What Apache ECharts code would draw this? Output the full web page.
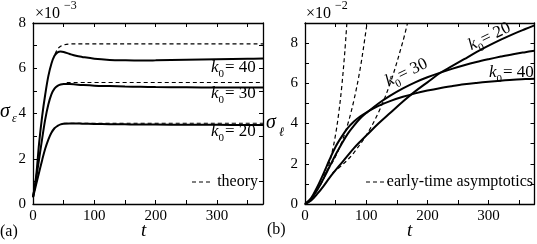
<!DOCTYPE html>
<html><head><meta charset="utf-8">
<script src="https://cdn.jsdelivr.net/npm/echarts@6/dist/echarts.min.js"></script>
<style>html,body{margin:0;padding:0;background:#fff}#c{width:537px;height:244px}</style>
</head><body><div id="c"></div>
<script>
// ---- Panel (a): sigma_epsilon (x10^-3) vs t ----
const tA   = [0, 5, 10, 15, 20, 25, 30, 35, 40, 45, 50, 60, 70, 80, 100, 125, 150, 175, 200, 250, 300, 350, 375];
const a_k20 = [0.3, 0.85, 1.4, 1.95, 2.45, 2.85, 3.15, 3.35, 3.45, 3.52, 3.55, 3.56, 3.56, 3.55, 3.54, 3.53, 3.52, 3.51, 3.51, 3.5, 3.5, 3.49, 3.49];
const a_k30 = [0.3, 1.1, 2.0, 2.9, 3.75, 4.4, 4.85, 5.1, 5.22, 5.28, 5.3, 5.3, 5.28, 5.26, 5.23, 5.21, 5.19, 5.18, 5.17, 5.16, 5.15, 5.15, 5.15];
const a_k40 = [0.3, 1.2, 2.7, 3.9, 4.85, 5.65, 6.2, 6.55, 6.7, 6.74, 6.72, 6.63, 6.55, 6.5, 6.42, 6.37, 6.35, 6.34, 6.35, 6.38, 6.4, 6.42, 6.43];
// theory (dashed)
const thT20 = [50, 375],  thV20 = [3.57, 3.57];
const thT30 = [55, 375],  thV30 = [5.37, 5.37];
const thT40 = [36, 40, 45, 50, 60, 80, 375];
const thV40 = [6.62, 6.85, 6.97, 7.03, 7.07, 7.08, 7.08];

// ---- Panel (b): sigma_l (x10^-2) vs t ----
const tB   = [0, 10, 20, 30, 40, 50, 60, 70, 80, 90, 100, 120, 140, 160, 180, 200, 220, 240, 260, 280, 300, 320, 340, 360, 375];
const b_k20 = [0, 0.18, 0.5, 0.88, 1.3, 1.68, 2.05, 2.42, 2.78, 3.1, 3.4, 4.0, 4.55, 5.1, 5.6, 6.05, 6.5, 6.85, 7.2, 7.55, 7.87, 8.17, 8.45, 8.7, 8.88];
const b_k30 = [0, 0.25, 0.7, 1.25, 1.85, 2.45, 3.0, 3.5, 3.9, 4.25, 4.52, 5.0, 5.4, 5.75, 6.05, 6.3, 6.52, 6.72, 6.9, 7.06, 7.2, 7.33, 7.45, 7.55, 7.62];
const b_k40 = [0, 0.3, 0.85, 1.5, 2.2, 2.85, 3.35, 3.78, 4.1, 4.35, 4.55, 4.88, 5.13, 5.33, 5.5, 5.64, 5.76, 5.86, 5.95, 6.02, 6.08, 6.13, 6.18, 6.21, 6.23];
// early-time asymptotics (dashed)
const asT1 = [25, 30, 35, 40, 45, 50, 55, 60, 65, 68.4];
const asV1 = [0.94, 1.22, 1.59, 2.06, 2.67, 3.46, 4.49, 5.82, 7.55, 9.0];
const asT2 = [30, 40, 50, 60, 70, 80, 90, 100, 101.3];
const asV2 = [1.41, 1.83, 2.37, 3.07, 3.98, 5.17, 6.7, 8.69, 9.0];
const asT3 = [45, 60, 70, 80, 100, 120, 140, 160, 167.5];
const asV3 = [1.55, 1.92, 2.21, 2.56, 3.41, 4.55, 6.07, 8.09, 9.0];

const xTicksShown = [0, 100, 200, 300];
const yTicksShownA = [0, 2, 4, 6, 8];
const yTicksShownB = [0, 2, 4, 6, 8];

const FF = "'Liberation Serif', 'Times New Roman', serif";
const zip = (t, v) => t.map((x, i) => [x, v[i]]);

function xAx(gi, pos) {
  return {
    type: 'value', gridIndex: gi, position: pos, min: 0, max: 375, interval: 50,
    axisLine: {show: true, onZero: false, lineStyle: {color: '#000', width: 1.3}},
    axisTick: {show: true, inside: true, length: 4, lineStyle: {color: '#000', width: 1}},
    axisLabel: pos === 'bottom' ? {show: true, margin: 5, color: '#000', fontFamily: FF, fontSize: 15,
      formatter: v => xTicksShown.includes(v) ? String(v) : '', showMaxLabel: false} : {show: false},
    splitLine: {show: false}
  };
}
function yAx(gi, pos, max, shown) {
  return {
    type: 'value', gridIndex: gi, position: pos, min: 0, max: max, interval: 1,
    axisLine: {show: true, onZero: false, lineStyle: {color: '#000', width: 1.3}},
    axisTick: {show: true, inside: true, length: 4, lineStyle: {color: '#000', width: 1}},
    axisLabel: pos === 'left' ? {show: true, margin: 7, color: '#000', fontFamily: FF, fontSize: 15,
      formatter: v => shown.includes(v) ? String(v) : ''} : {show: false},
    splitLine: {show: false}
  };
}
function solid(xi, yi, data) {
  return {type: 'line', xAxisIndex: xi, yAxisIndex: yi, data: data, showSymbol: false, smooth: 0.35,
    lineStyle: {color: '#000', width: 2}, silent: true, animation: false};
}
function dashed(xi, yi, data) {
  return {type: 'line', xAxisIndex: xi, yAxisIndex: yi, data: data, showSymbol: false, smooth: 0.35,
    lineStyle: {color: '#000', width: 1.2, type: [4, 3]}, silent: true, animation: false};
}
function kLabel(x, y, num, rot) {
  return {type: 'group', x: x, y: y, rotation: rot || 0, children: [
    {type: 'text', x: 0, y: 0, style: {text: 'k', font: 'italic 17px ' + FF, fill: '#000', verticalAlign: 'bottom'}},
    {type: 'text', x: 7.5, y: 3.5, style: {text: '0', font: '11px ' + FF, fill: '#000', verticalAlign: 'bottom'}},
    {type: 'text', x: 14, y: 0, style: {text: '= ' + num, font: '17px ' + FF, fill: '#000', verticalAlign: 'bottom'}}
  ]};
}
function txt(x, y, s, font, align) {
  return {type: 'text', x: x, y: y, style: {text: s, font: font, fill: '#000', align: align || 'left', verticalAlign: 'bottom'}};
}

const chart = echarts.init(document.getElementById('c'), null, {renderer: 'canvas'});
chart.setOption({
  animation: false,
  backgroundColor: '#fff',
  grid: [
    {left: 33, top: 23, width: 230, height: 181},
    {left: 305, top: 23, width: 229.5, height: 181}
  ],
  xAxis: [xAx(0, 'bottom'), xAx(0, 'top'), xAx(1, 'bottom'), xAx(1, 'top')],
  yAxis: [yAx(0, 'left', 8, yTicksShownA), yAx(0, 'right', 8, yTicksShownA),
          yAx(1, 'left', 9, yTicksShownB), yAx(1, 'right', 9, yTicksShownB)],
  series: [
    solid(0, 0, zip(tA, a_k20)), solid(0, 0, zip(tA, a_k30)), solid(0, 0, zip(tA, a_k40)),
    dashed(0, 0, zip(thT20, thV20)), dashed(0, 0, zip(thT30, thV30)), dashed(0, 0, zip(thT40, thV40)),
    solid(2, 2, zip(tB, b_k20)), solid(2, 2, zip(tB, b_k30)), solid(2, 2, zip(tB, b_k40)),
    dashed(2, 2, zip(asT1, asV1)), dashed(2, 2, zip(asT2, asV2)), dashed(2, 2, zip(asT3, asV3))
  ],
  graphic: [
    // panel a labels
    kLabel(211, 76, '40'), kLabel(211, 102, '30'), kLabel(211, 140, '20'),
    {type: 'line', shape: {x1: 192, y1: 182, x2: 213, y2: 182}, style: {stroke: '#000', lineWidth: 1.2, lineDash: [4, 3]}},
    txt(258, 190, 'theory', '16px ' + FF, 'right'),
    txt(0, 122, 'σ', 'italic 20px ' + FF), txt(12, 125, 'ε', 'italic 12px ' + FF),
    txt(35, 22, '×10', '16px ' + FF), txt(64, 12, '−3', '12px ' + FF),
    txt(141, 240, 't', 'italic 19px ' + FF),
    txt(0, 240, '(a)', '16px ' + FF),
    // panel b labels
    kLabel(473, 54, '20', 0.45), kLabel(390, 90, '30', 0.45), kLabel(489, 81, '40'),
    {type: 'line', shape: {x1: 366, y1: 182, x2: 389, y2: 182}, style: {stroke: '#000', lineWidth: 1.2, lineDash: [4, 3]}},
    txt(533, 190, 'early-time asymptotics', '16px ' + FF, 'right'),
    txt(266, 133, 'σ', 'italic 20px ' + FF), txt(279, 139, 'ℓ', 'italic 13px ' + FF),
    txt(306, 22, '×10', '16px ' + FF), txt(335, 12, '−2', '12px ' + FF),
    txt(407, 240, 't', 'italic 19px ' + FF),
    txt(267, 238, '(b)', '16px ' + FF)
  ]
});
</script></body></html>
